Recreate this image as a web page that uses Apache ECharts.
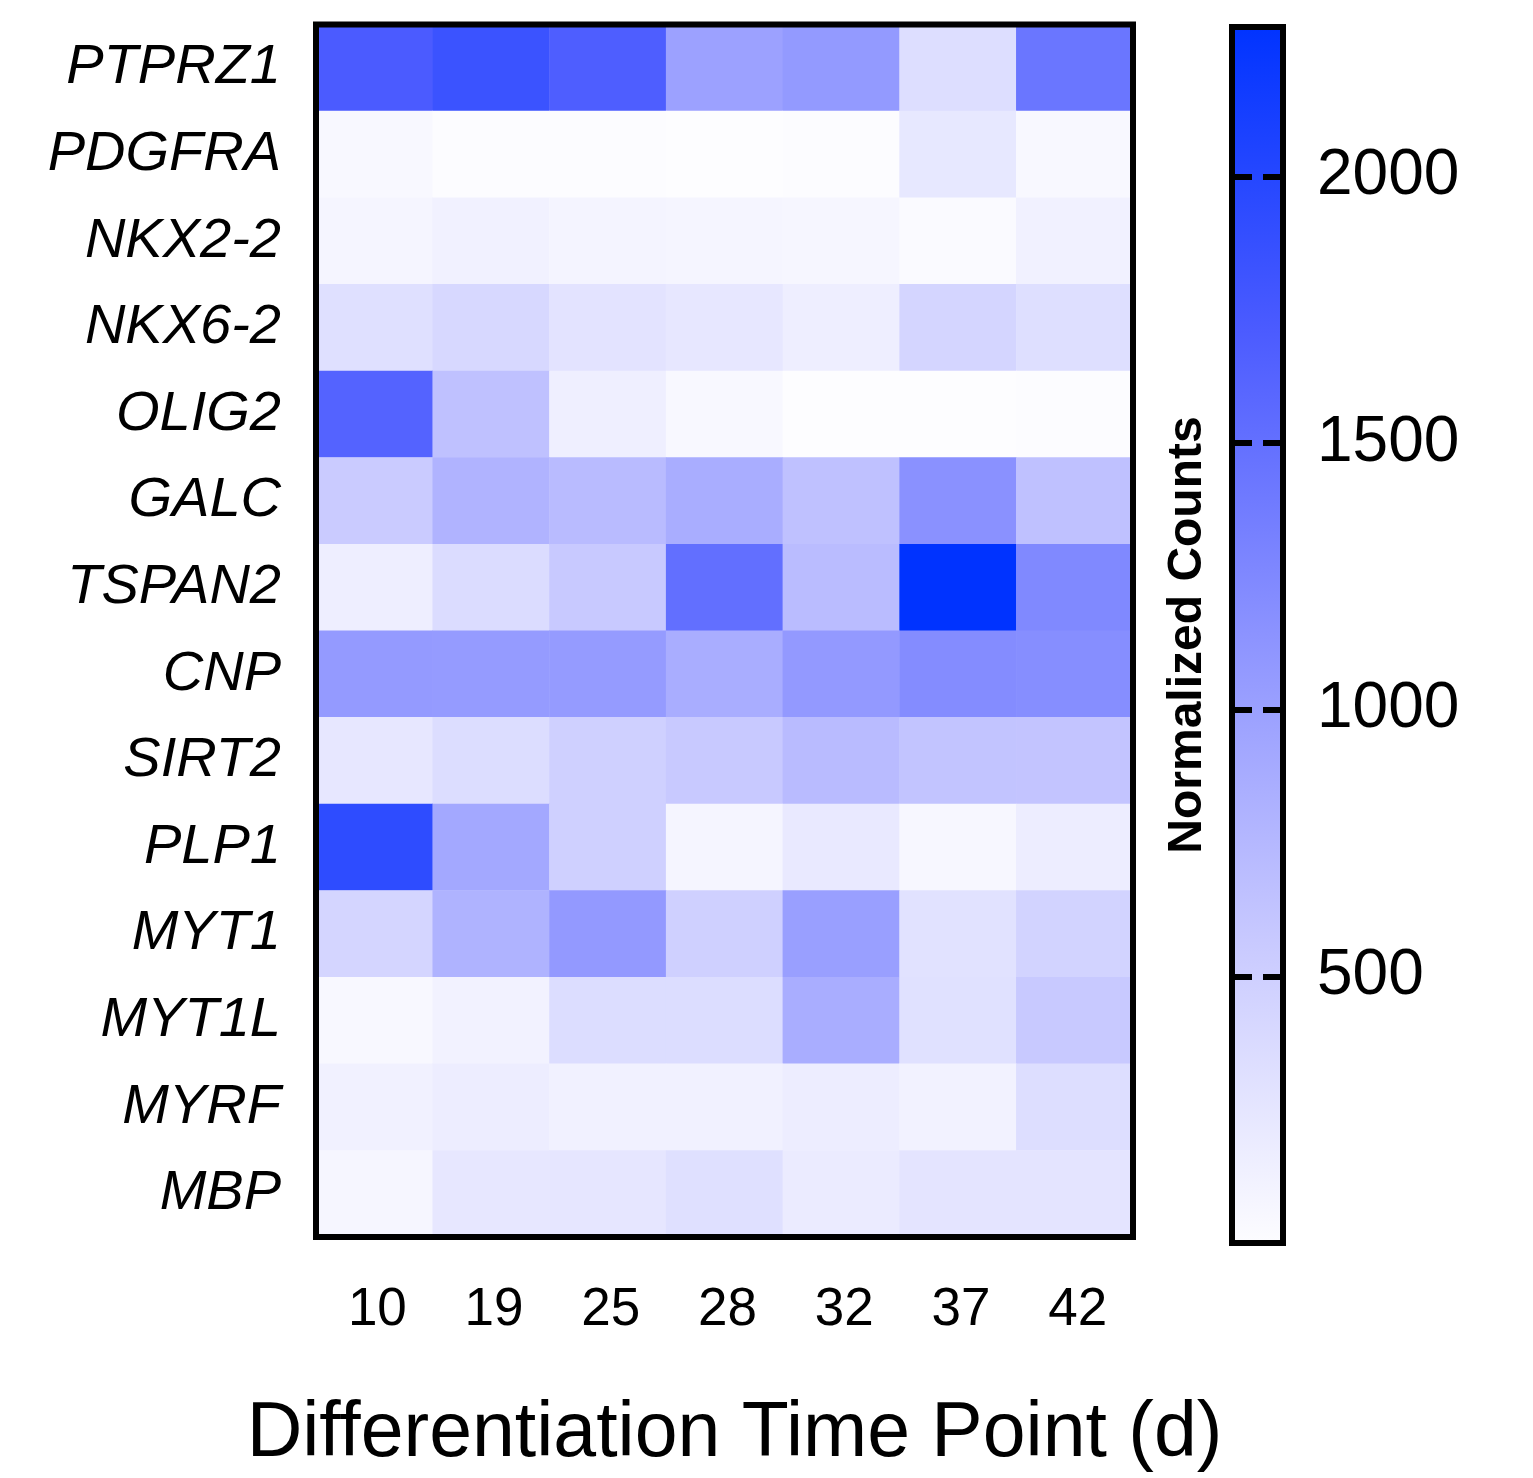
<!DOCTYPE html>
<html>
<head>
<meta charset="utf-8">
<script src="https://cdn.jsdelivr.net/npm/echarts/dist/echarts.min.js"></script>
<style>
  html, body { margin: 0; padding: 0; background: #fff; }
  #chart { width: 1533px; height: 1478px; }
</style>
</head>
<body>
<div id="chart"></div>
<script>
const genes = ["PTPRZ1", "PDGFRA", "NKX2-2", "NKX6-2", "OLIG2", "GALC", "TSPAN2",
  "CNP", "SIRT2", "PLP1", "MYT1", "MYT1L", "MYRF", "MBP"];
const days = ["10", "19", "25", "28", "32", "37", "42"];

// normalized counts, one row per gene, columns follow days
const counts = [
  [1710, 1830, 1680, 990, 1070, 340, 1435],
  [50, 12, 12, 5, 14, 235, 50],
  [86, 129, 97, 86, 75, 32, 129],
  [323, 409, 280, 237, 161, 441, 333],
  [1630, 655, 150, 50, 5, 5, 12],
  [548, 798, 713, 865, 655, 1157, 655],
  [160, 365, 570, 1505, 703, 2280, 1245],
  [1064, 1055, 1055, 865, 1073, 1210, 1193],
  [237, 355, 495, 570, 713, 627, 618],
  [1930, 922, 495, 86, 215, 65, 172],
  [441, 807, 1073, 495, 1017, 301, 463],
  [54, 118, 355, 355, 865, 312, 570],
  [129, 172, 129, 129, 172, 118, 344],
  [75, 237, 247, 323, 194, 269, 269],
];

const scaleMin = 0;
const scaleMax = 2280;
const scaleTicks = [500, 1000, 1500, 2000];
const palette = ["#fdfdff", "#c8c9ff", "#8c93ff", "#4b5bff", "#0033ff"];

const font = '"Liberation Sans", Arial, Helvetica, sans-serif';

const data = [];
counts.forEach((row, gi) => {
  row.forEach((v, di) => data.push([di, gi, v]));
});

const chart = echarts.init(document.getElementById("chart"));

const option = {
  animation: false,
  backgroundColor: "#fff",
  grid: [
    {
      left: 316,
      top: 24.5,
      width: 817,
      height: 1220,
      show: true,
      z: 10,
      borderColor: "#000",
      borderWidth: 6,
      backgroundColor: "transparent",
    },
    {
      left: 1232,
      top: 27,
      width: 51,
      height: 1216,
      show: true,
      borderColor: "#000",
      borderWidth: 6,
      backgroundColor: new echarts.graphic.LinearGradient(
        0, 1, 0, 0,
        palette.map((c, i) => ({ offset: i / (palette.length - 1), color: c }))
      ),
    },
  ],
  xAxis: [
    {
      type: "category",
      data: days,
      gridIndex: 0,
      axisLine: { show: false },
      axisTick: { show: false },
      splitLine: { show: false },
      axisLabel: {
        color: "#000",
        fontSize: 53,
        fontFamily: font,
        margin: 47,
        padding: [0, 0, 0, 6],
      },
      name: "Differentiation Time Point (d)",
      nameLocation: "middle",
      nameGap: 159,
      nameTextStyle: {
        color: "#000",
        fontSize: 77,
        fontFamily: font,
        padding: [0, 0, 0, 20],
      },
    },
    { type: "value", gridIndex: 1, show: false },
  ],
  yAxis: [
    {
      type: "category",
      data: genes,
      inverse: true,
      gridIndex: 0,
      axisLine: { show: false },
      axisTick: { show: false },
      splitLine: { show: false },
      axisLabel: {
        color: "#000",
        fontSize: 56,
        fontStyle: "italic",
        fontFamily: font,
        margin: 35,
      },
    },
    {
      type: "value",
      gridIndex: 1,
      position: "right",
      min: scaleMin,
      max: scaleMax,
      interval: 500,
      z: 5,
      axisLine: { show: false },
      axisTick: { show: false },
      splitLine: {
        show: true,
        lineStyle: { color: "#000", width: 6, type: [20, 11] },
      },
      axisLabel: {
        color: "#000",
        fontSize: 64,
        fontFamily: font,
        margin: 34,
        formatter: (v) => (scaleTicks.includes(v) ? String(v) : ""),
      },
    },
    {
      type: "value",
      gridIndex: 1,
      position: "left",
      min: scaleMin,
      max: scaleMax,
      axisLine: { show: false },
      axisTick: { show: false },
      axisLabel: { show: false },
      splitLine: { show: false },
      name: "Normalized Counts",
      nameLocation: "middle",
      nameRotate: 90,
      nameGap: 20,
      nameTextStyle: {
        color: "#000",
        fontSize: 48,
        fontWeight: "bold",
        fontFamily: font,
      },
    },
  ],
  visualMap: {
    show: false,
    type: "continuous",
    min: scaleMin,
    max: scaleMax,
    seriesIndex: 0,
    inRange: { color: palette },
  },
  series: [
    {
      type: "heatmap",
      xAxisIndex: 0,
      yAxisIndex: 0,
      data: data,
      itemStyle: { borderWidth: 0 },
      emphasis: { disabled: true },
    },
  ],
};

chart.setOption(option);
</script>
</body>
</html>
